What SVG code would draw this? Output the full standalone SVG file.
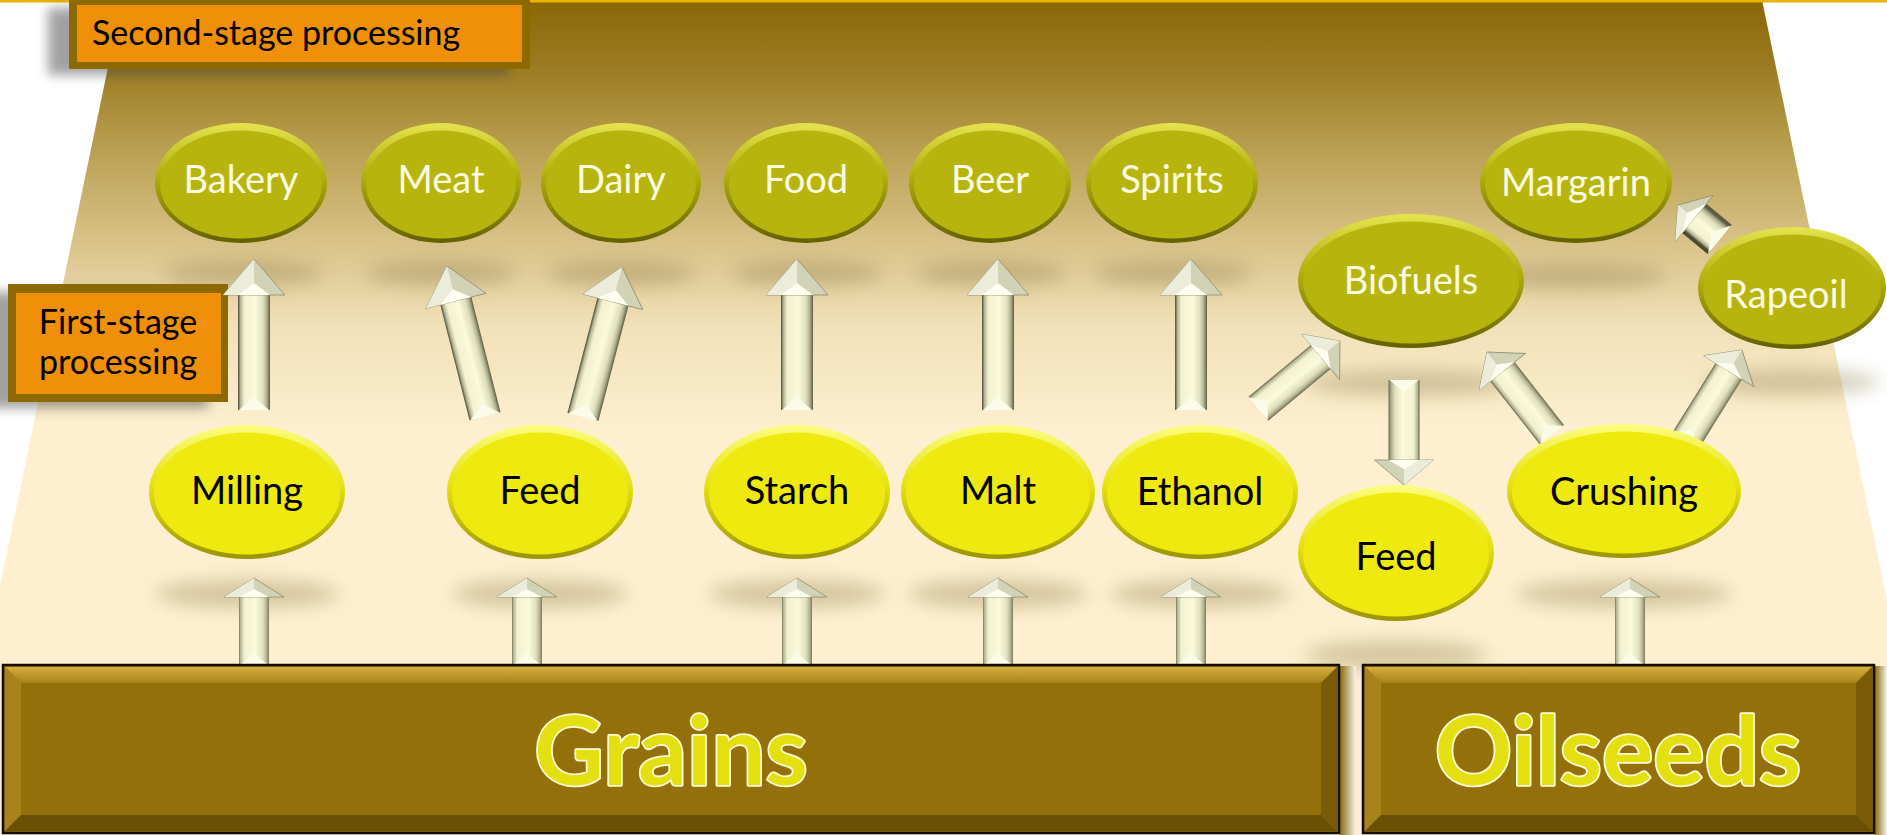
<svg xmlns="http://www.w3.org/2000/svg" width="1887" height="835" viewBox="0 0 1887 835">
<style>
.f{font-family:Lato,'Open Sans','Liberation Sans',sans-serif}
.t2{font-size:38px;fill:#fbfbe2;text-anchor:middle}
.t1{font-size:38px;fill:#000;text-anchor:middle}
.tl{font-size:34px;fill:#000}
.big{font-size:96px;font-weight:bold;fill:#e4df10;stroke:#fbfbd6;stroke-width:3.5;paint-order:stroke;text-anchor:middle;stroke-linejoin:round}
.o2{fill:url(#rimOl)}
.i2{fill:#b7b40e}
.o1{fill:url(#rimYe)}
.i1{fill:#eeea10}
.shd{fill:#8f7d4c;opacity:.36;filter:url(#blur)}
.sh{fill:url(#shG)}
.hd{fill:#d2d2b6;stroke:#8c8c70;stroke-width:.8}
.hl{fill:#ececda}
.vv{fill:#fdfdf0}
.tt{fill:#fbfbea}
.bx{fill:#94700a;stroke:#141000;stroke-width:2.5}
.bt{fill:url(#bevTop)}
.bl{fill:#a8821a}
.br{fill:#7a5c08}
.bb{fill:#6a5005}
.lbo{fill:#8c6a00}
.lbi{fill:#f09008}
.lsh{fill:#444;opacity:.5;filter:url(#blur2)}
</style>
<defs>
<linearGradient id="bg" gradientUnits="userSpaceOnUse" x1="0" y1="0" x2="0" y2="430">
<stop offset="0" stop-color="#8a6606"/>
<stop offset="0.15" stop-color="#9b7b22"/>
<stop offset="0.35" stop-color="#b9a052"/>
<stop offset="0.58" stop-color="#dbc58c"/>
<stop offset="0.76" stop-color="#f1e1b9"/>
<stop offset="1" stop-color="#fdefd0"/>
</linearGradient>
<linearGradient id="rimOl" x1="0" y1="0" x2="0" y2="1">
<stop offset="0" stop-color="#e6e44e"/>
<stop offset="0.45" stop-color="#b0ad0c"/>
<stop offset="1" stop-color="#636000"/>
</linearGradient>
<linearGradient id="rimYe" x1="0" y1="0" x2="0" y2="1">
<stop offset="0" stop-color="#fdfd80"/>
<stop offset="0.45" stop-color="#e6e20e"/>
<stop offset="1" stop-color="#9a9400"/>
</linearGradient>
<linearGradient id="shG" gradientUnits="userSpaceOnUse" x1="-16" y1="0" x2="16" y2="0">
<stop offset="0" stop-color="#4a4a36"/>
<stop offset="0.08" stop-color="#b8b898"/>
<stop offset="0.2" stop-color="#f2f2d0"/>
<stop offset="0.55" stop-color="#fafadc"/>
<stop offset="0.78" stop-color="#e0e0bc"/>
<stop offset="0.9" stop-color="#b0b090"/>
<stop offset="1" stop-color="#5c5c44"/>
</linearGradient>
<linearGradient id="bevTop" x1="0" y1="0" x2="0" y2="1">
<stop offset="0" stop-color="#d6ae3c"/>
<stop offset="1" stop-color="#a8821a"/>
</linearGradient>
<linearGradient id="gap" x1="0" y1="0" x2="1" y2="0">
<stop offset="0" stop-color="#8a6c12"/>
<stop offset="1" stop-color="#f8f4ea"/>
</linearGradient>
<filter id="blur" x="-50%" y="-200%" width="200%" height="500%"><feGaussianBlur stdDeviation="9"/></filter>
<filter id="blur2" x="-30%" y="-50%" width="160%" height="200%"><feGaussianBlur stdDeviation="6"/></filter>
</defs>

<rect width="1887" height="835" fill="#fff"/>
<polygon points="122,0 1762,0 1887,600 1887,835 0,835 0,586" fill="url(#bg)"/>
<rect x="0" y="0" width="1887" height="2.5" fill="#e8b400"/>

<g id="shadows">
<ellipse class="shd" cx="243" cy="273" rx="80" ry="13"/>
<ellipse class="shd" cx="441" cy="273" rx="75" ry="13"/>
<ellipse class="shd" cx="621" cy="273" rx="75" ry="13"/>
<ellipse class="shd" cx="806" cy="273" rx="76" ry="13"/>
<ellipse class="shd" cx="990" cy="273" rx="76" ry="13"/>
<ellipse class="shd" cx="1172" cy="273" rx="80" ry="13"/>
<ellipse class="shd" cx="1576" cy="276" rx="90" ry="13"/>
<ellipse class="shd" cx="1411" cy="383" rx="105" ry="13"/>
<ellipse class="shd" cx="1792" cy="382" rx="88" ry="13"/>
<ellipse class="shd" cx="247" cy="594" rx="92" ry="14"/>
<ellipse class="shd" cx="540" cy="594" rx="88" ry="14"/>
<ellipse class="shd" cx="797" cy="594" rx="88" ry="14"/>
<ellipse class="shd" cx="998" cy="594" rx="90" ry="14"/>
<ellipse class="shd" cx="1200" cy="594" rx="90" ry="14"/>
<ellipse class="shd" cx="1396" cy="655" rx="92" ry="14"/>
<ellipse class="shd" cx="1624" cy="594" rx="108" ry="14"/>
</g>

<g id="label-second">
<rect class="lsh" x="48" y="8" width="461" height="67"/>
<rect class="lbo" x="69" y="0" width="461" height="69"/>
<rect class="lbi" x="77" y="5" width="445" height="57"/>
<text class="f tl" x="92" y="45">Second-stage processing</text>
</g>
<g id="label-first">
<rect class="lsh" x="-12" y="292" width="220" height="116"/>
<rect class="lbo" x="8" y="284" width="220" height="118"/>
<rect class="lbi" x="16" y="293" width="205" height="101"/>
<text class="f tl" x="118" y="334" text-anchor="middle">First-stage</text>
<text class="f tl" x="118" y="374" text-anchor="middle">processing</text>
</g>

<g id="connectors">
<g transform="translate(254,259)"><rect class="sh" x="-16" y="35" width="32" height="116"/><path class="hd" d="M0,0L31,36L-31,36Z"/><path class="hl" d="M0,0L-31,36L0,36Z"/><path class="vv" d="M-16,36L0,24L16,36Z"/><path class="tt" d="M-15,151L0,138L15,151Z"/></g>
<g transform="translate(447,266) rotate(-14.2)"><rect class="sh" x="-16" y="35" width="32" height="120"/><path class="hd" d="M0,0L31,36L-31,36Z"/><path class="hl" d="M0,0L-31,36L0,36Z"/><path class="vv" d="M-16,36L0,24L16,36Z"/><path class="tt" d="M-15,155L0,142L15,155Z"/></g>
<g transform="translate(622,267) rotate(14.6)"><rect class="sh" x="-16" y="35" width="32" height="120"/><path class="hd" d="M0,0L31,36L-31,36Z"/><path class="hl" d="M0,0L-31,36L0,36Z"/><path class="vv" d="M-16,36L0,24L16,36Z"/><path class="tt" d="M-15,155L0,142L15,155Z"/></g>
<g transform="translate(797,259)"><rect class="sh" x="-16" y="35" width="32" height="116"/><path class="hd" d="M0,0L31,36L-31,36Z"/><path class="hl" d="M0,0L-31,36L0,36Z"/><path class="vv" d="M-16,36L0,24L16,36Z"/><path class="tt" d="M-15,151L0,138L15,151Z"/></g>
<g transform="translate(998,259)"><rect class="sh" x="-16" y="35" width="32" height="116"/><path class="hd" d="M0,0L31,36L-31,36Z"/><path class="hl" d="M0,0L-31,36L0,36Z"/><path class="vv" d="M-16,36L0,24L16,36Z"/><path class="tt" d="M-15,151L0,138L15,151Z"/></g>
<g transform="translate(1191,259)"><rect class="sh" x="-16" y="35" width="32" height="116"/><path class="hd" d="M0,0L31,36L-31,36Z"/><path class="hl" d="M0,0L-31,36L0,36Z"/><path class="vv" d="M-16,36L0,24L16,36Z"/><path class="tt" d="M-15,151L0,138L15,151Z"/></g>
<g transform="translate(1340,341) rotate(50.3)"><rect class="sh" x="-15.5" y="24" width="31" height="82"/><path class="hd" d="M0,0L29.5,25L-29.5,25Z"/><path class="hl" d="M0,0L-29.5,25L0,25Z"/><path class="vv" d="M-15.5,25L0,16L15.5,25Z"/><path class="tt" d="M-14.5,106L0,94L14.5,106Z"/></g>
<g transform="translate(1404,485) rotate(180)"><rect class="sh" x="-15.5" y="24" width="31" height="81"/><path class="hd" d="M0,0L29.5,25L-29.5,25Z"/><path class="hl" d="M0,0L-29.5,25L0,25Z"/><path class="vv" d="M-15.5,25L0,16L15.5,25Z"/><path class="tt" d="M-14.5,105L0,93L14.5,105Z"/></g>
<g transform="translate(1487,352) rotate(-38.1)"><rect class="sh" x="-15.5" y="24" width="31" height="81"/><path class="hd" d="M0,0L29.5,25L-29.5,25Z"/><path class="hl" d="M0,0L-29.5,25L0,25Z"/><path class="vv" d="M-15.5,25L0,16L15.5,25Z"/><path class="tt" d="M-14.5,105L0,93L14.5,105Z"/></g>
<g transform="translate(1742,350) rotate(31.9)"><rect class="sh" x="-15.5" y="24" width="31" height="82"/><path class="hd" d="M0,0L29.5,25L-29.5,25Z"/><path class="hl" d="M0,0L-29.5,25L0,25Z"/><path class="vv" d="M-15.5,25L0,16L15.5,25Z"/><path class="tt" d="M-14.5,106L0,94L14.5,106Z"/></g>
<g transform="translate(1678,205) rotate(-50.5)"><rect class="sh" x="-19" y="19" width="38" height="35"/><path class="hd" d="M0,0L30,21L-30,21Z"/><path class="hl" d="M0,0L-30,21L0,21Z"/><path class="vv" d="M-19,21L0,12L19,21Z"/><path class="tt" d="M-18,54L0,43L18,54Z"/></g>
<g transform="translate(254,578)"><rect class="sh" x="-15" y="18" width="30" height="69"/><path class="hd" d="M0,0L30,19L-30,19Z"/><path class="hl" d="M0,0L-30,19L0,19Z"/><path class="vv" d="M-15,19L0,11L15,19Z"/><path class="tt" d="M-14,87L0,75L14,87Z"/></g>
<g transform="translate(527,578)"><rect class="sh" x="-15" y="18" width="30" height="69"/><path class="hd" d="M0,0L30,19L-30,19Z"/><path class="hl" d="M0,0L-30,19L0,19Z"/><path class="vv" d="M-15,19L0,11L15,19Z"/><path class="tt" d="M-14,87L0,75L14,87Z"/></g>
<g transform="translate(797,578)"><rect class="sh" x="-15" y="18" width="30" height="69"/><path class="hd" d="M0,0L30,19L-30,19Z"/><path class="hl" d="M0,0L-30,19L0,19Z"/><path class="vv" d="M-15,19L0,11L15,19Z"/><path class="tt" d="M-14,87L0,75L14,87Z"/></g>
<g transform="translate(998,578)"><rect class="sh" x="-15" y="18" width="30" height="69"/><path class="hd" d="M0,0L30,19L-30,19Z"/><path class="hl" d="M0,0L-30,19L0,19Z"/><path class="vv" d="M-15,19L0,11L15,19Z"/><path class="tt" d="M-14,87L0,75L14,87Z"/></g>
<g transform="translate(1191,578)"><rect class="sh" x="-15" y="18" width="30" height="69"/><path class="hd" d="M0,0L30,19L-30,19Z"/><path class="hl" d="M0,0L-30,19L0,19Z"/><path class="vv" d="M-15,19L0,11L15,19Z"/><path class="tt" d="M-14,87L0,75L14,87Z"/></g>
<g transform="translate(1630,578)"><rect class="sh" x="-15" y="18" width="30" height="69"/><path class="hd" d="M0,0L30,19L-30,19Z"/><path class="hl" d="M0,0L-30,19L0,19Z"/><path class="vv" d="M-15,19L0,11L15,19Z"/><path class="tt" d="M-14,87L0,75L14,87Z"/></g>
</g>

<g id="node-bakery"><ellipse class="o2" cx="241" cy="183" rx="86" ry="60"/><ellipse class="i2" cx="241" cy="184.5" rx="81" ry="54"/><text class="f t2" x="241" y="193">Bakery</text></g>
<g id="node-meat"><ellipse class="o2" cx="441" cy="183" rx="80" ry="60"/><ellipse class="i2" cx="441" cy="184.5" rx="75" ry="54"/><text class="f t2" x="441" y="193">Meat</text></g>
<g id="node-dairy"><ellipse class="o2" cx="621" cy="183" rx="80" ry="60"/><ellipse class="i2" cx="621" cy="184.5" rx="75" ry="54"/><text class="f t2" x="621" y="193">Dairy</text></g>
<g id="node-food"><ellipse class="o2" cx="806" cy="183" rx="82" ry="60"/><ellipse class="i2" cx="806" cy="184.5" rx="77" ry="54"/><text class="f t2" x="806" y="193">Food</text></g>
<g id="node-beer"><ellipse class="o2" cx="990" cy="183" rx="81" ry="60"/><ellipse class="i2" cx="990" cy="184.5" rx="76" ry="54"/><text class="f t2" x="990" y="193">Beer</text></g>
<g id="node-spirits"><ellipse class="o2" cx="1172" cy="183" rx="86" ry="60"/><ellipse class="i2" cx="1172" cy="184.5" rx="81" ry="54"/><text class="f t2" x="1172" y="193">Spirits</text></g>
<g id="node-margarin"><ellipse class="o2" cx="1576" cy="183" rx="96" ry="60"/><ellipse class="i2" cx="1576" cy="184.5" rx="91" ry="54"/><text class="f t2" x="1576" y="196">Margarin</text></g>
<g id="node-biofuels"><ellipse class="o2" cx="1411" cy="281" rx="113" ry="67"/><ellipse class="i2" cx="1411" cy="282.5" rx="108" ry="61"/><text class="f t2" x="1411" y="294">Biofuels</text></g>
<g id="node-rapeoil"><ellipse class="o2" cx="1792" cy="288" rx="94" ry="61"/><ellipse class="i2" cx="1792" cy="289.5" rx="89" ry="55"/><text class="f t2" x="1786" y="308">Rapeoil</text></g>

<g id="node-milling"><ellipse class="o1" cx="247" cy="492" rx="98" ry="67"/><ellipse class="i1" cx="247" cy="493.5" rx="93" ry="61"/><text class="f t1" x="247" y="504">Milling</text></g>
<g id="node-feed"><ellipse class="o1" cx="540" cy="492" rx="93" ry="67"/><ellipse class="i1" cx="540" cy="493.5" rx="88" ry="61"/><text class="f t1" x="540" y="504">Feed</text></g>
<g id="node-starch"><ellipse class="o1" cx="797" cy="492" rx="93" ry="67"/><ellipse class="i1" cx="797" cy="493.5" rx="88" ry="61"/><text class="f t1" x="797" y="504">Starch</text></g>
<g id="node-malt"><ellipse class="o1" cx="998" cy="492" rx="97" ry="67"/><ellipse class="i1" cx="998" cy="493.5" rx="92" ry="61"/><text class="f t1" x="998" y="504">Malt</text></g>
<g id="node-ethanol"><ellipse class="o1" cx="1200" cy="492" rx="98" ry="67"/><ellipse class="i1" cx="1200" cy="493.5" rx="93" ry="61"/><text class="f t1" x="1200" y="505">Ethanol</text></g>
<g id="node-feed2"><ellipse class="o1" cx="1396" cy="553" rx="98" ry="68"/><ellipse class="i1" cx="1396" cy="554.5" rx="93" ry="62"/><text class="f t1" x="1396" y="570">Feed</text></g>
<g id="node-crushing"><ellipse class="o1" cx="1624" cy="491" rx="117" ry="67"/><ellipse class="i1" cx="1624" cy="492.5" rx="112" ry="61"/><text class="f t1" x="1624" y="505">Crushing</text></g>

<rect x="1340" y="666" width="16" height="169" fill="url(#gap)"/>
<rect x="1875" y="666" width="12" height="169" fill="url(#gap)"/>

<g id="node-grains">
<rect class="bx" x="3" y="665" width="1336" height="168"/>
<polygon class="bt" points="5,667 1337,667 1321,683 21,683"/>
<polygon class="bl" points="5,667 21,683 21,815 5,831"/>
<polygon class="br" points="1337,667 1337,831 1321,815 1321,683"/>
<polygon class="bb" points="5,831 21,815 1321,815 1337,831"/>
<text class="f big" x="671" y="785">Grains</text>
</g>
<g id="node-oilseeds">
<rect class="bx" x="1363" y="665" width="511" height="168"/>
<polygon class="bt" points="1365,667 1872,667 1856,683 1381,683"/>
<polygon class="bl" points="1365,667 1381,683 1381,815 1365,831"/>
<polygon class="br" points="1872,667 1872,831 1856,815 1856,683"/>
<polygon class="bb" points="1365,831 1381,815 1856,815 1872,831"/>
<text class="f big" x="1618" y="785">Oilseeds</text>
</g>
</svg>
